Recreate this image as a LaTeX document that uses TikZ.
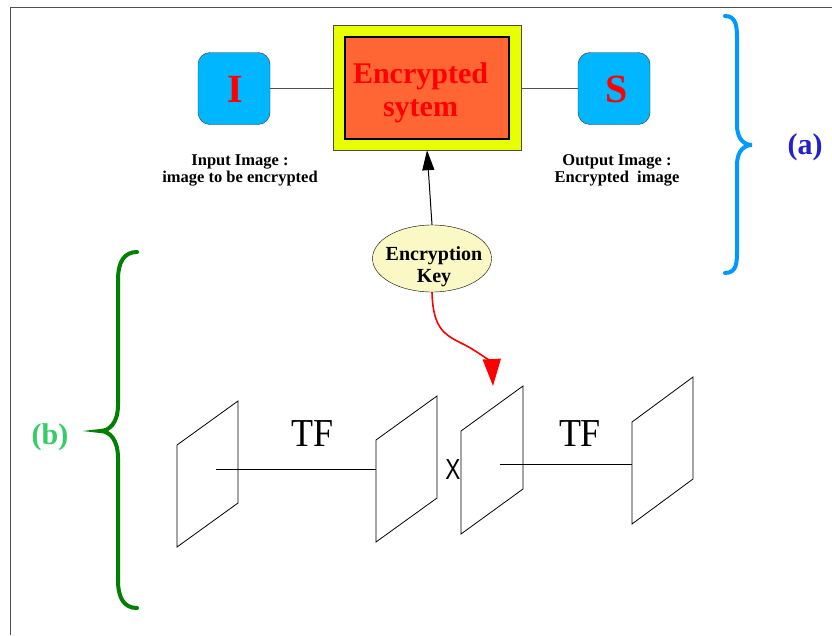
\documentclass[tikz,border=0pt]{standalone}
\usepackage{fontspec}
\setmainfont{Liberation Serif}
\newfontfamily\arialf{Liberation Sans}
\usetikzlibrary{shapes.geometric,arrows.meta}
\definecolor{boxcyan}{RGB}{0,183,255}
\definecolor{boxyellow}{RGB}{232,255,0}
\definecolor{boxorange}{RGB}{255,102,51}
\definecolor{keyfill}{RGB}{250,248,196}
\definecolor{bracea}{RGB}{0,153,255}
\definecolor{braceb}{RGB}{0,128,0}
\definecolor{labela}{RGB}{34,34,204}
\definecolor{labelb}{RGB}{51,204,102}
\definecolor{linegray}{RGB}{80,80,80}
\tikzset{
  ioBox/.style={draw=black!80, fill=boxcyan, rounded corners=12pt, minimum width=72pt, minimum height=72pt, inner sep=0pt},
  ioLetter/.style={font=\fontsize{40}{44}\selectfont\bfseries, text=red, inner sep=0pt},
  capText/.style={font=\fontsize{16.5}{17.3}\selectfont\bfseries, align=center, inner sep=0pt},
  plane/.style={draw=black, line width=0.8pt},
  bigSerif/.style={font=\fontsize{36}{38}\selectfont, inner sep=0pt, yscale=1.1},
  brace/.style={line width=4pt, line cap=round}
}
\begin{document}
\begin{tikzpicture}[x=1pt,y=-1pt]
\useasboundingbox (0,0) rectangle (832,635);
\fill[white] (0,0) rectangle (832,635);
% frame
\draw[linegray, line width=1pt] (10,635) -- (10,7) -- (832,7);

% top part
\node[ioBox] (I) at (234,88.5) {};
\node[ioLetter] (Itxt) at (235,89) {I};
\node[ioBox] (S) at (614,88.5) {};
\node[ioLetter] (Stxt) at (617,89) {S};
\node[draw=black!70, fill=boxyellow, minimum width=188pt, minimum height=125pt, inner sep=0pt] (sys) at (427,87.5) {};
\node[draw=black, line width=2pt, fill=boxorange, minimum width=164pt, minimum height=102pt, inner sep=0pt] (inner) at (427,88) {};
\node[align=center, text=red, font=\fontsize{30}{33}\selectfont\bfseries, inner sep=0pt] (systxt) at (420.5,93) {Encrypted\\sytem};
\draw[linegray, line width=1pt] (I.east) -- (I.east -| sys.west);
\draw[linegray, line width=1pt] (S.west -| sys.east) -- (S.west);

\node[capText] (inlab) at (240,170.5) {Input Image :\\image to be encrypted};
\node[capText] (outlab) at (617,170.5) {Output Image :\\Encrypted\ \ image};

\node[ellipse, draw=black, fill=keyfill, minimum width=119pt, minimum height=67pt, inner sep=0pt] (key) at (432,258.5) {};
\node[align=center, font=\fontsize{20}{22}\selectfont\bfseries, inner sep=0pt] (keytxt) at (434,267) {Encryption\\Key};
\draw[black, line width=1pt, -{Triangle[width=12pt,length=20pt]}] (key.north) -- (sys.south);

% red arrow
\coordinate (keytarget) at (493,386);
\draw[red, line width=1.6pt, -{Triangle[width=18pt,length=27pt]}] (key.south) .. controls (433,330) and (445,335) .. (465,345) .. controls (482,354) and (492,364) .. (keytarget);

% braces
\draw[brace, bracea] (725,16) .. controls (737,16) and (737,28) .. (737,40) -- (737,125) .. controls (737,140) and (745,145) .. (752,145) .. controls (745,145) and (737,150) .. (737,165) -- (737,250) .. controls (737,262) and (737,273) .. (725,273);
\node[text=labela, font=\fontsize{30}{32}\selectfont\bfseries] (la) at (805,147) {(a)};
\draw[brace, braceb] (137,252) .. controls (124,252) and (118,262) .. (118,280) -- (118,405) .. controls (118,422) and (110,431) .. (100,431) .. controls (110,431) and (118,440) .. (118,458) -- (118,580) .. controls (118,598) and (124,608) .. (137,608);
\node[text=labelb, font=\fontsize{30}{32}\selectfont\bfseries] (lb) at (50,437) {(b)};

% planes
\draw[plane] (177,445) -- (238,401) -- (238,503) -- (177,547) -- cycle;
\draw[plane] (376,440) -- (437,396) -- (437,498) -- (376,542) -- cycle;
\draw[plane] (461,431) -- (523,386) -- (523,489) -- (461,534) -- cycle;
\draw[plane] (632,422) -- (693,377) -- (693,479) -- (632,524) -- cycle;
\coordinate (p1c) at (216,469);
\coordinate (p2l) at (376,469);
\coordinate (p3c) at (500,464);
\coordinate (p4l) at (632,464);
\draw[black, line width=1pt] (p1c) -- (p2l);
\draw[black, line width=1pt] (p3c) -- (p4l);
\node[bigSerif] (tf1) at (313,434) {TF};
\node[bigSerif] (tf2) at (580,434) {TF};
\node[font=\arialf\fontsize{29}{30}\selectfont, inner sep=0pt, xscale=0.78] (xx) at (453,469.5) {X};
\end{tikzpicture}
\end{document}
